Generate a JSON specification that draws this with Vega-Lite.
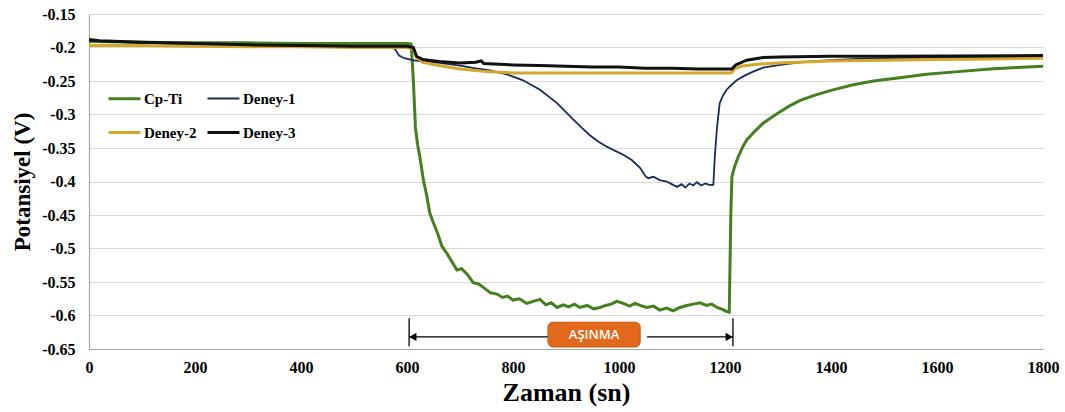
{
  "$schema": "https://vega.github.io/schema/vega-lite/v6.json",
  "width": 954,
  "height": 335,
  "autosize": "none",
  "padding": {"left": 89, "top": 14, "right": 22, "bottom": 63},
  "background": "white",
  "config": {
    "view": {"stroke": null},
    "axis": {
      "labelFont": "Liberation Serif", "labelFontWeight": "bold", "labelFontSize": 16, "labelColor": "#000000",
      "titleFont": "Liberation Serif", "titleFontWeight": "bold", "titleColor": "#000000",
      "ticks": false, "domainColor": "#a6a6a6", "domainWidth": 1.2, "gridColor": "#d9d9d9", "gridWidth": 1.2
    },
    "legend": {
      "labelFont": "Liberation Serif", "labelFontWeight": "bold", "labelFontSize": 15, "labelColor": "#000000",
      "symbolType": "stroke", "symbolSize": 1024, "labelOffset": 2, "columnPadding": 4, "rowPadding": 8
    }
  },
  "datasets": {
    "series": [
      {"s":"Cp-Ti","t":0,"v":-0.191},{"s":"Cp-Ti","t":100,"v":-0.192},{"s":"Cp-Ti","t":200,"v":-0.193},{"s":"Cp-Ti","t":300,"v":-0.193},{"s":"Cp-Ti","t":400,"v":-0.194},{"s":"Cp-Ti","t":500,"v":-0.194},{"s":"Cp-Ti","t":600,"v":-0.194},{"s":"Cp-Ti","t":608,"v":-0.195},{"s":"Cp-Ti","t":612,"v":-0.25},{"s":"Cp-Ti","t":616,"v":-0.32},{"s":"Cp-Ti","t":620,"v":-0.345},{"s":"Cp-Ti","t":624,"v":-0.362},{"s":"Cp-Ti","t":631,"v":-0.398},{"s":"Cp-Ti","t":637,"v":-0.42},{"s":"Cp-Ti","t":643,"v":-0.447},{"s":"Cp-Ti","t":650,"v":-0.462},{"s":"Cp-Ti","t":658,"v":-0.478},{"s":"Cp-Ti","t":666,"v":-0.497},{"s":"Cp-Ti","t":675,"v":-0.507},{"s":"Cp-Ti","t":685,"v":-0.52},{"s":"Cp-Ti","t":694,"v":-0.532},{"s":"Cp-Ti","t":703,"v":-0.53},{"s":"Cp-Ti","t":713,"v":-0.538},{"s":"Cp-Ti","t":725,"v":-0.551},{"s":"Cp-Ti","t":735,"v":-0.553},{"s":"Cp-Ti","t":744,"v":-0.558},{"s":"Cp-Ti","t":757,"v":-0.566},{"s":"Cp-Ti","t":770,"v":-0.568},{"s":"Cp-Ti","t":780,"v":-0.573},{"s":"Cp-Ti","t":790,"v":-0.571},{"s":"Cp-Ti","t":800,"v":-0.577},{"s":"Cp-Ti","t":812,"v":-0.575},{"s":"Cp-Ti","t":826,"v":-0.582},{"s":"Cp-Ti","t":838,"v":-0.579},{"s":"Cp-Ti","t":851,"v":-0.576},{"s":"Cp-Ti","t":862,"v":-0.584},{"s":"Cp-Ti","t":872,"v":-0.581},{"s":"Cp-Ti","t":883,"v":-0.588},{"s":"Cp-Ti","t":895,"v":-0.584},{"s":"Cp-Ti","t":905,"v":-0.587},{"s":"Cp-Ti","t":916,"v":-0.583},{"s":"Cp-Ti","t":926,"v":-0.588},{"s":"Cp-Ti","t":940,"v":-0.585},{"s":"Cp-Ti","t":952,"v":-0.59},{"s":"Cp-Ti","t":964,"v":-0.588},{"s":"Cp-Ti","t":975,"v":-0.585},{"s":"Cp-Ti","t":985,"v":-0.583},{"s":"Cp-Ti","t":996,"v":-0.579},{"s":"Cp-Ti","t":1008,"v":-0.582},{"s":"Cp-Ti","t":1020,"v":-0.586},{"s":"Cp-Ti","t":1030,"v":-0.582},{"s":"Cp-Ti","t":1040,"v":-0.585},{"s":"Cp-Ti","t":1052,"v":-0.588},{"s":"Cp-Ti","t":1065,"v":-0.586},{"s":"Cp-Ti","t":1077,"v":-0.592},{"s":"Cp-Ti","t":1090,"v":-0.589},{"s":"Cp-Ti","t":1102,"v":-0.593},{"s":"Cp-Ti","t":1115,"v":-0.588},{"s":"Cp-Ti","t":1128,"v":-0.585},{"s":"Cp-Ti","t":1140,"v":-0.583},{"s":"Cp-Ti","t":1153,"v":-0.581},{"s":"Cp-Ti","t":1165,"v":-0.585},{"s":"Cp-Ti","t":1175,"v":-0.583},{"s":"Cp-Ti","t":1185,"v":-0.588},{"s":"Cp-Ti","t":1195,"v":-0.591},{"s":"Cp-Ti","t":1203,"v":-0.594},{"s":"Cp-Ti","t":1208,"v":-0.595},{"s":"Cp-Ti","t":1211,"v":-0.45},{"s":"Cp-Ti","t":1213,"v":-0.393},{"s":"Cp-Ti","t":1218,"v":-0.378},{"s":"Cp-Ti","t":1225,"v":-0.363},{"s":"Cp-Ti","t":1233,"v":-0.349},{"s":"Cp-Ti","t":1241,"v":-0.338},{"s":"Cp-Ti","t":1255,"v":-0.326},{"s":"Cp-Ti","t":1272,"v":-0.313},{"s":"Cp-Ti","t":1288,"v":-0.304},{"s":"Cp-Ti","t":1304,"v":-0.296},{"s":"Cp-Ti","t":1322,"v":-0.287},{"s":"Cp-Ti","t":1342,"v":-0.279},{"s":"Cp-Ti","t":1370,"v":-0.271},{"s":"Cp-Ti","t":1400,"v":-0.264},{"s":"Cp-Ti","t":1440,"v":-0.256},{"s":"Cp-Ti","t":1480,"v":-0.25},{"s":"Cp-Ti","t":1530,"v":-0.245},{"s":"Cp-Ti","t":1580,"v":-0.24},{"s":"Cp-Ti","t":1640,"v":-0.236},{"s":"Cp-Ti","t":1700,"v":-0.232},{"s":"Cp-Ti","t":1750,"v":-0.23},{"s":"Cp-Ti","t":1800,"v":-0.228},
      {"s":"Deney-1","t":0,"v":-0.19},{"s":"Deney-1","t":100,"v":-0.193},{"s":"Deney-1","t":200,"v":-0.195},{"s":"Deney-1","t":300,"v":-0.197},{"s":"Deney-1","t":400,"v":-0.198},{"s":"Deney-1","t":500,"v":-0.199},{"s":"Deney-1","t":570,"v":-0.2},{"s":"Deney-1","t":577,"v":-0.202},{"s":"Deney-1","t":585,"v":-0.212},{"s":"Deney-1","t":595,"v":-0.216},{"s":"Deney-1","t":611,"v":-0.219},{"s":"Deney-1","t":630,"v":-0.221},{"s":"Deney-1","t":662,"v":-0.223},{"s":"Deney-1","t":700,"v":-0.227},{"s":"Deney-1","t":730,"v":-0.231},{"s":"Deney-1","t":757,"v":-0.234},{"s":"Deney-1","t":788,"v":-0.24},{"s":"Deney-1","t":819,"v":-0.249},{"s":"Deney-1","t":851,"v":-0.263},{"s":"Deney-1","t":883,"v":-0.283},{"s":"Deney-1","t":913,"v":-0.307},{"s":"Deney-1","t":930,"v":-0.32},{"s":"Deney-1","t":945,"v":-0.331},{"s":"Deney-1","t":960,"v":-0.34},{"s":"Deney-1","t":977,"v":-0.348},{"s":"Deney-1","t":992,"v":-0.354},{"s":"Deney-1","t":1008,"v":-0.36},{"s":"Deney-1","t":1024,"v":-0.368},{"s":"Deney-1","t":1040,"v":-0.38},{"s":"Deney-1","t":1050,"v":-0.392},{"s":"Deney-1","t":1055,"v":-0.395},{"s":"Deney-1","t":1065,"v":-0.393},{"s":"Deney-1","t":1077,"v":-0.398},{"s":"Deney-1","t":1090,"v":-0.4},{"s":"Deney-1","t":1102,"v":-0.405},{"s":"Deney-1","t":1110,"v":-0.408},{"s":"Deney-1","t":1118,"v":-0.404},{"s":"Deney-1","t":1125,"v":-0.409},{"s":"Deney-1","t":1133,"v":-0.403},{"s":"Deney-1","t":1140,"v":-0.406},{"s":"Deney-1","t":1147,"v":-0.401},{"s":"Deney-1","t":1155,"v":-0.406},{"s":"Deney-1","t":1163,"v":-0.403},{"s":"Deney-1","t":1170,"v":-0.405},{"s":"Deney-1","t":1178,"v":-0.405},{"s":"Deney-1","t":1181,"v":-0.36},{"s":"Deney-1","t":1185,"v":-0.319},{"s":"Deney-1","t":1190,"v":-0.283},{"s":"Deney-1","t":1196,"v":-0.272},{"s":"Deney-1","t":1203,"v":-0.263},{"s":"Deney-1","t":1212,"v":-0.256},{"s":"Deney-1","t":1222,"v":-0.249},{"s":"Deney-1","t":1237,"v":-0.242},{"s":"Deney-1","t":1253,"v":-0.236},{"s":"Deney-1","t":1272,"v":-0.23},{"s":"Deney-1","t":1304,"v":-0.226},{"s":"Deney-1","t":1342,"v":-0.222},{"s":"Deney-1","t":1400,"v":-0.219},{"s":"Deney-1","t":1450,"v":-0.217},{"s":"Deney-1","t":1500,"v":-0.216},{"s":"Deney-1","t":1600,"v":-0.215},{"s":"Deney-1","t":1700,"v":-0.214},{"s":"Deney-1","t":1800,"v":-0.214},
      {"s":"Deney-2","t":0,"v":-0.197},{"s":"Deney-2","t":100,"v":-0.197},{"s":"Deney-2","t":200,"v":-0.198},{"s":"Deney-2","t":300,"v":-0.199},{"s":"Deney-2","t":400,"v":-0.199},{"s":"Deney-2","t":500,"v":-0.2},{"s":"Deney-2","t":600,"v":-0.2},{"s":"Deney-2","t":612,"v":-0.202},{"s":"Deney-2","t":618,"v":-0.215},{"s":"Deney-2","t":630,"v":-0.222},{"s":"Deney-2","t":660,"v":-0.227},{"s":"Deney-2","t":700,"v":-0.232},{"s":"Deney-2","t":750,"v":-0.236},{"s":"Deney-2","t":800,"v":-0.238},{"s":"Deney-2","t":900,"v":-0.238},{"s":"Deney-2","t":1000,"v":-0.238},{"s":"Deney-2","t":1100,"v":-0.238},{"s":"Deney-2","t":1212,"v":-0.238},{"s":"Deney-2","t":1218,"v":-0.232},{"s":"Deney-2","t":1230,"v":-0.228},{"s":"Deney-2","t":1260,"v":-0.225},{"s":"Deney-2","t":1300,"v":-0.223},{"s":"Deney-2","t":1400,"v":-0.22},{"s":"Deney-2","t":1500,"v":-0.219},{"s":"Deney-2","t":1600,"v":-0.218},{"s":"Deney-2","t":1700,"v":-0.217},{"s":"Deney-2","t":1800,"v":-0.216},
      {"s":"Deney-3","t":0,"v":-0.188},{"s":"Deney-3","t":20,"v":-0.19},{"s":"Deney-3","t":100,"v":-0.192},{"s":"Deney-3","t":200,"v":-0.194},{"s":"Deney-3","t":300,"v":-0.196},{"s":"Deney-3","t":400,"v":-0.197},{"s":"Deney-3","t":500,"v":-0.198},{"s":"Deney-3","t":600,"v":-0.198},{"s":"Deney-3","t":612,"v":-0.2},{"s":"Deney-3","t":618,"v":-0.213},{"s":"Deney-3","t":630,"v":-0.218},{"s":"Deney-3","t":660,"v":-0.221},{"s":"Deney-3","t":700,"v":-0.223},{"s":"Deney-3","t":730,"v":-0.222},{"s":"Deney-3","t":740,"v":-0.220},{"s":"Deney-3","t":745,"v":-0.224},{"s":"Deney-3","t":800,"v":-0.226},{"s":"Deney-3","t":850,"v":-0.227},{"s":"Deney-3","t":900,"v":-0.228},{"s":"Deney-3","t":950,"v":-0.229},{"s":"Deney-3","t":1000,"v":-0.229},{"s":"Deney-3","t":1050,"v":-0.231},{"s":"Deney-3","t":1100,"v":-0.231},{"s":"Deney-3","t":1150,"v":-0.232},{"s":"Deney-3","t":1213,"v":-0.232},{"s":"Deney-3","t":1220,"v":-0.226},{"s":"Deney-3","t":1241,"v":-0.219},{"s":"Deney-3","t":1272,"v":-0.215},{"s":"Deney-3","t":1304,"v":-0.214},{"s":"Deney-3","t":1400,"v":-0.213},{"s":"Deney-3","t":1500,"v":-0.213},{"s":"Deney-3","t":1800,"v":-0.212}
    ],
    "hseg": [{"t":604,"t2":866,"v":-0.632},{"t":1053,"t2":1215,"v":-0.632}],
    "vseg": [{"t":604,"v":-0.604,"v2":-0.646},{"t":1215,"v":-0.604,"v2":-0.646}],
    "leftHead": [{"t":611,"v":-0.632}],
    "rightHead": [{"t":1208,"v":-0.632}],
    "box": [{"t":866,"t2":1040,"v":-0.610,"v2":-0.647,"label":"AŞINMA","tc":953,"vc":-0.6285}]
  },
  "layer": [
    {
      "data": {"name": "series"},
      "mark": {"type": "line", "interpolate": "linear"},
      "encoding": {
        "x": {"field": "t", "type": "quantitative", "scale": {"domain": [0, 1800], "nice": false},
              "axis": {"values": [0,200,400,600,800,1000,1200,1400,1600,1800], "format": "d", "labelFlush": false, "grid": false, "title": "Zaman (sn)", "titleFontSize": 26, "labelPadding": 10, "titlePadding": 4}},
        "y": {"field": "v", "type": "quantitative", "scale": {"domain": [-0.65, -0.15], "nice": false, "zero": false},
              "axis": {"values": [-0.65,-0.6,-0.55,-0.5,-0.45,-0.4,-0.35,-0.3,-0.25,-0.2,-0.15], "tickCount": 30, "labelOverlap": false, "grid": true, "title": "Potansiyel (V)", "titleFontSize": 23, "labelPadding": 14, "titlePadding": 7,
                       "labelExpr": "replace(format(datum.value, '.2~f'), '\u2212', '-')"}},
        "color": {"field": "s", "type": "nominal",
                  "scale": {"domain": ["Cp-Ti","Deney-1","Deney-2","Deney-3"], "range": ["#44801f","#1b2a5c","#d4a82a","#111111"]},
                  "legend": {"title": null, "orient": "none", "legendX": 18, "legendY": 67, "columns": 2, "direction": "horizontal"}},
        "strokeWidth": {"field": "s", "type": "nominal",
                  "scale": {"type": "ordinal", "domain": ["Cp-Ti","Deney-1","Deney-2","Deney-3"], "range": [3, 1.8, 3, 3]},
                  "legend": {"title": null, "orient": "none", "legendX": 18, "legendY": 67, "columns": 2, "direction": "horizontal"}}
      }
    },
    {
      "data": {"name": "hseg"},
      "mark": {"type": "rule", "color": "#000000", "strokeWidth": 1.3},
      "encoding": {"x": {"field": "t", "type": "quantitative"}, "x2": {"field": "t2"}, "y": {"field": "v", "type": "quantitative"}}
    },
    {
      "data": {"name": "vseg"},
      "mark": {"type": "rule", "color": "#000000", "strokeWidth": 1.3},
      "encoding": {"x": {"field": "t", "type": "quantitative"}, "y": {"field": "v", "type": "quantitative"}, "y2": {"field": "v2"}}
    },
    {
      "data": {"name": "leftHead"},
      "mark": {"type": "point", "shape": "triangle-left", "filled": true, "color": "#000000", "size": 70, "opacity": 1},
      "encoding": {"x": {"field": "t", "type": "quantitative"}, "y": {"field": "v", "type": "quantitative"}}
    },
    {
      "data": {"name": "rightHead"},
      "mark": {"type": "point", "shape": "triangle-right", "filled": true, "color": "#000000", "size": 70, "opacity": 1},
      "encoding": {"x": {"field": "t", "type": "quantitative"}, "y": {"field": "v", "type": "quantitative"}}
    },
    {
      "data": {"name": "box"},
      "mark": {"type": "rect", "fill": "#e2681b", "stroke": "#c4580f", "strokeWidth": 1, "cornerRadius": 5},
      "encoding": {"x": {"field": "t", "type": "quantitative"}, "x2": {"field": "t2"}, "y": {"field": "v", "type": "quantitative"}, "y2": {"field": "v2"}}
    },
    {
      "data": {"name": "box"},
      "mark": {"type": "text", "color": "#ffffff", "font": "Open Sans", "fontSize": 13, "fontWeight": 600, "align": "center", "baseline": "middle"},
      "encoding": {"x": {"field": "tc", "type": "quantitative"}, "y": {"field": "vc", "type": "quantitative"}, "text": {"field": "label"}}
    }
  ]
}
